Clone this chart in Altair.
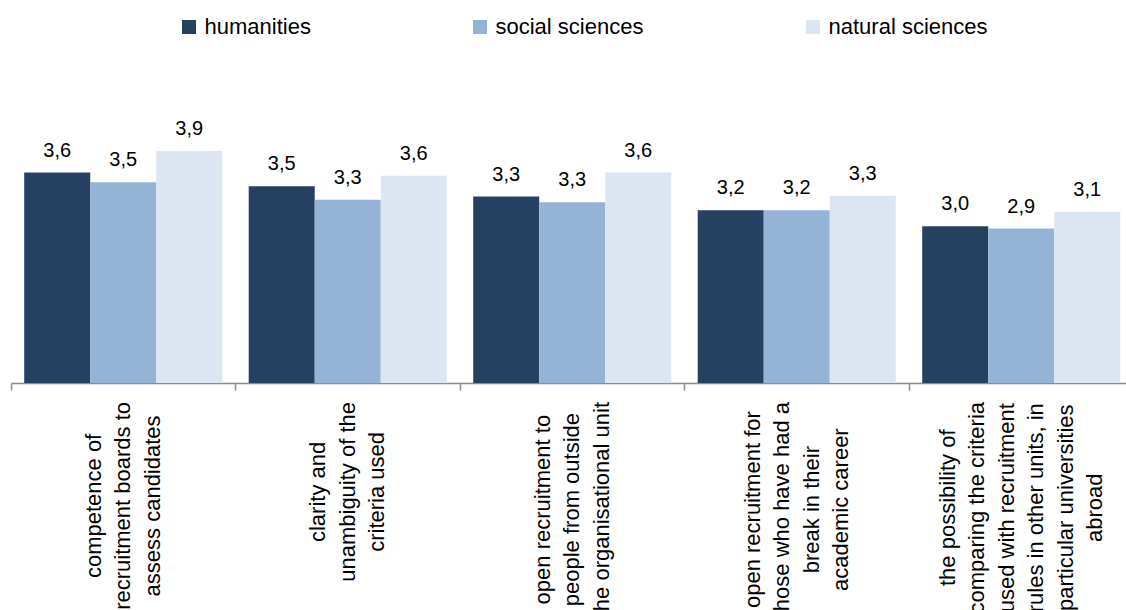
import altair as alt
import pandas as pd

# Category labels; "|" marks a line break in the rotated axis text
categories = [
    "competence of|recruitment boards to|assess candidates",
    "clarity and|unambiguity of the|criteria used",
    "open recruitment to|people from outside|the organisational unit",
    "open recruitment for|those who have had a|break in their|academic career",
    "the possibility of|comparing the criteria|used with recruitment|rules in other units, in|particular universities|abroad",
]
series = ["humanities", "social sciences", "natural sciences"]

humanities = [3.63, 3.46, 3.33, 3.16, 2.96]
social_sciences = [3.51, 3.29, 3.26, 3.16, 2.93]
natural_sciences = [3.90, 3.59, 3.63, 3.34, 3.14]

colors = ["#264061", "#95B3D7", "#DCE6F2"]
FONT = "Liberation Sans"
LABEL_SIZE = 22
LINE_HEIGHT = 29.5
X_RANGE = 1122.5                      # x extent of the five category bands
HALF_BAND = X_RANGE / len(categories) / 2

# Advance widths (em) of Arial-metric glyphs, used to centre each rotated
# label block under its own longest line
ADV = {
    "a": .556, "b": .556, "c": .5, "d": .556, "e": .556, "f": .278, "g": .556,
    "h": .556, "i": .222, "j": .222, "k": .5, "l": .222, "m": .833, "n": .556,
    "o": .556, "p": .556, "q": .556, "r": .333, "s": .5, "t": .278, "u": .556,
    "v": .5, "w": .722, "x": .5, "y": .5, "z": .5, " ": .278, ",": .278,
}


def longest_line_em(label):
    return max(sum(ADV.get(ch, .556) for ch in line) for line in label.split("|"))


rows = []
for name, vals in zip(series, [humanities, social_sciences, natural_sciences]):
    for cat, v in zip(categories, vals):
        rows.append({"category": cat, "series": name, "value": v})
df = pd.DataFrame(rows)

cat_df = pd.DataFrame({
    "category": categories,
    "span_em": [longest_line_em(c) for c in categories],
})

x_scale = alt.Scale(domain=categories, paddingInner=0, paddingOuter=0, range=[0, X_RANGE])
x_enc = alt.X(
    "category:N",
    sort=categories,
    scale=x_scale,
    axis=alt.Axis(
        labels=False, title=None, grid=False, bandPosition=0,
        domainColor="#8C8C8C", domainWidth=1.5,
        tickColor="#8C8C8C", tickWidth=1.5, tickSize=7,
    ),
)
xoff_enc = alt.XOffset(
    "series:N", sort=series,
    scale=alt.Scale(domain=series, paddingInner=0, paddingOuter=0.2),
)
y_scale = alt.Scale(domain=[1, 5])

bars = alt.Chart(df).mark_bar().encode(
    x=x_enc,
    xOffset=xoff_enc,
    y=alt.Y("value:Q", scale=y_scale, axis=None),
    y2=alt.datum(1),
    color=alt.Color(
        "series:N",
        sort=series,
        scale=alt.Scale(domain=series, range=colors),
        legend=alt.Legend(
            title=None, orient="none", legendX=167, legendY=-47,
            direction="horizontal", columns=3, padding=0,
            symbolType="square", symbolSize=196, symbolStrokeWidth=0,
            labelFont=FONT, labelFontSize=22, labelColor="black",
            labelOffset=4.5, columnPadding=158, labelLimit=400,
        ),
    ),
)

value_labels = alt.Chart(df).transform_calculate(
    label="replace(format(datum.value, '.1f'), '.', ',')"
).mark_text(
    font=FONT, fontSize=20, color="black", baseline="alphabetic", dy=-16
).encode(
    x=x_enc,
    xOffset=xoff_enc,
    y=alt.Y("value:Q", scale=y_scale, axis=None),
    text="label:N",
)

# Rotated multi-line category labels: the block is centred on its band and
# the top of the longest line sits just below the axis
category_labels = alt.Chart(cat_df).transform_calculate(
    lines="split(datum.category, '|')",
).transform_calculate(
    shift=f"{HALF_BAND} - (length(datum.lines) - 1) * {LINE_HEIGHT} / 2",
    yc=f"339 + datum.span_em * {LABEL_SIZE} / 2",
).mark_text(
    font=FONT, fontSize=LABEL_SIZE, angle=270, align="center",
    baseline="middle", lineHeight=LINE_HEIGHT, color="black",
).encode(
    x=x_enc,
    xOffset=alt.XOffset("shift:Q", scale=None),
    y=alt.Y("yc:Q", scale=None, axis=None),
    text="lines:N",
)

chart = alt.layer(
    alt.layer(bars, value_labels), category_labels
).resolve_scale(
    xOffset="independent"
).properties(
    width=1115,
    height=320,
    autosize=alt.AutoSizeParams(type="none"),
    padding={"left": 11, "top": 63, "right": 0, "bottom": 227},
    background="white",
).configure_view(stroke=None)

chart.save("out.html", embed_options={"renderer": "svg", "actions": False})
